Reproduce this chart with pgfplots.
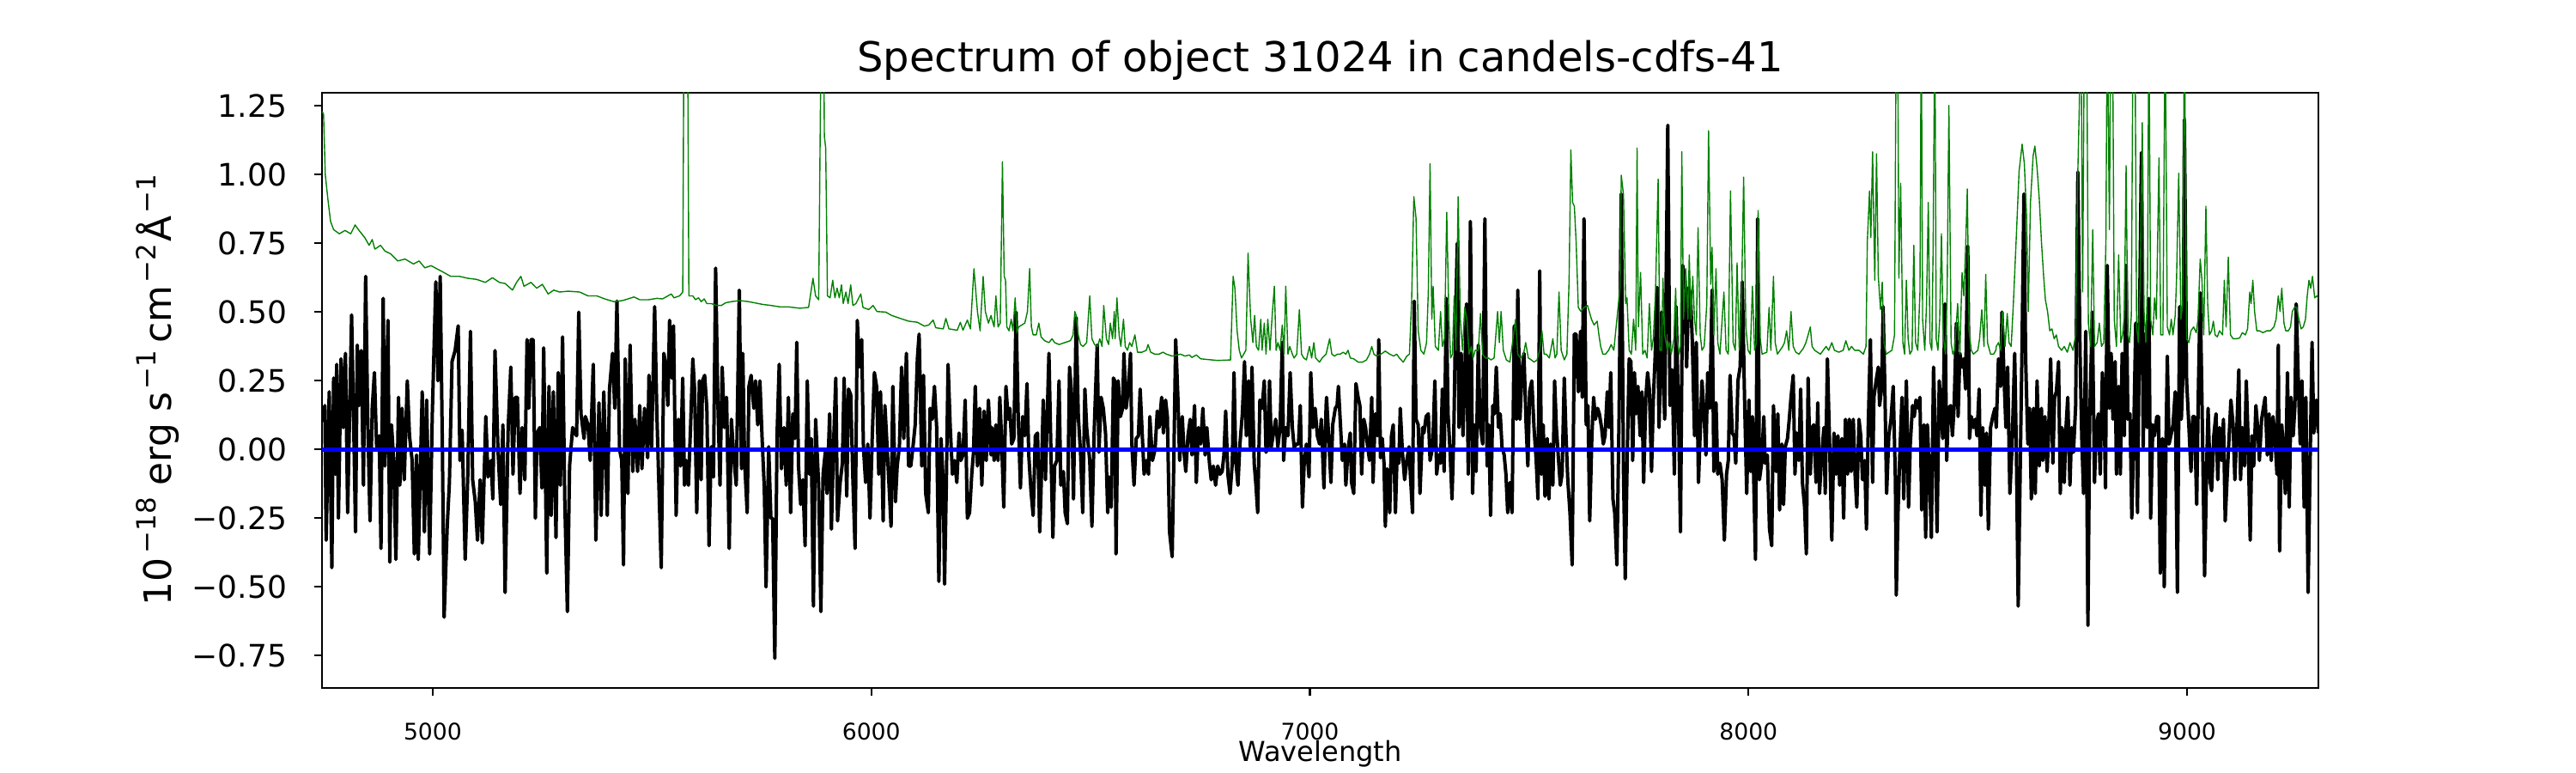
\documentclass[border=0pt]{standalone}
\usepackage{fontspec}
\setmainfont{DejaVu Sans}
\usepackage{pgfplots}
\pgfplotsset{compat=1.18}
\usepackage{pgfplotstable}
\definecolor{mplgreen}{RGB}{0,128,0}
\definecolor{mplblue}{RGB}{0,0,255}
\newcommand{\sups}[1]{\raisebox{6.6pt}{\fontsize{11.1}{13}\selectfont #1}}
\pgfplotstableread[row sep=\\]{
x y\\
4749 0.10\\ 4754 0.16\\ 4757 -0.33\\ 4764 0.21\\ 4770 -0.43\\ 4774 0.26\\ 4778 -0.09\\ 4781 0.31\\ 4785 -0.25\\ 4791 0.33\\
4796 0.08\\ 4801 0.35\\ 4806 -0.23\\ 4815 0.49\\ 4819 0.16\\ 4824 -0.30\\ 4828 0.38\\ 4832 0.16\\ 4837 0.36\\ 4842 -0.13\\
4847 0.63\\ 4852 0.09\\ 4857 -0.26\\ 4862 0.15\\ 4867 0.28\\ 4872 0.01\\ 4878 0.05\\ 4882 -0.36\\ 4887 0.55\\ 4891 -0.06\\
4898 0.47\\ 4902 -0.41\\ 4906 0.09\\ 4911 -0.04\\ 4916 -0.40\\ 4922 0.19\\ 4925 -0.13\\ 4930 0.15\\ 4935 -0.11\\ 4942 0.25\\
4947 0.05\\ 4953 -0.04\\ 4958 -0.38\\ 4963 -0.02\\ 4967 -0.40\\ 4976 0.21\\ 4981 -0.30\\ 4986 0.18\\ 4993 -0.38\\ 4999 0.13\\
5007 0.61\\ 5012 0.25\\ 5017 0.63\\ 5022 0.01\\ 5026 -0.61\\ 5033 -0.28\\ 5038 -0.12\\ 5044 0.32\\ 5051 0.36\\ 5058 0.45\\
5062 -0.04\\ 5067 0.07\\ 5074 -0.40\\ 5080 -0.09\\ 5086 0.43\\ 5091 -0.11\\ 5097 -0.19\\ 5102 -0.33\\ 5108 -0.11\\ 5113 -0.34\\
5121 0.12\\ 5126 -0.10\\ 5133 -0.04\\ 5137 -0.18\\ 5142 0.36\\ 5149 -0.01\\ 5155 -0.20\\ 5160 0.09\\ 5165 -0.52\\ 5172 0.08\\
5178 0.30\\ 5183 -0.09\\ 5188 0.19\\ 5193 0.19\\ 5199 -0.16\\ 5204 0.08\\ 5210 -0.11\\ 5215 0.40\\ 5219 0.15\\ 5224 0.40\\
5229 0.40\\ 5234 -0.25\\ 5238 0.06\\ 5244 0.08\\ 5249 -0.14\\ 5253 0.37\\ 5260 -0.45\\ 5265 0.23\\ 5270 -0.24\\ 5275 0.21\\
5281 -0.32\\ 5286 0.28\\ 5291 -0.13\\ 5296 0.41\\ 5301 -0.18\\ 5307 -0.59\\ 5312 -0.06\\ 5319 0.08\\ 5324 0.06\\ 5328 0.05\\
5333 0.50\\ 5338 0.13\\ 5345 0.04\\ 5348 0.12\\ 5354 0.09\\ 5359 -0.04\\ 5366 0.31\\ 5372 -0.33\\ 5379 0.17\\ 5384 -0.24\\
5390 0.21\\ 5398 -0.24\\ 5403 0.22\\ 5410 0.35\\ 5415 0.15\\ 5420 0.54\\ 5426 0.00\\ 5431 -0.04\\ 5435 -0.42\\ 5439 0.33\\
5445 -0.16\\ 5450 0.38\\ 5456 -0.08\\ 5461 0.11\\ 5467 -0.08\\ 5472 0.16\\ 5477 -0.07\\ 5483 0.15\\ 5490 -0.03\\ 5493 0.27\\
5499 0.01\\ 5506 0.52\\ 5511 0.13\\
5521 -0.43\\ 5527 0.35\\ 5532 0.30\\ 5536 0.16\\ 5540 0.47\\ 5545 0.26\\ 5549 0.45\\ 5555 -0.24\\ 5560 0.11\\ 5565 -0.06\\
5570 0.26\\ 5574 -0.13\\ 5578 -0.04\\ 5583 -0.13\\ 5588 0.09\\ 5593 0.33\\ 5597 0.22\\ 5602 -0.23\\ 5608 0.25\\ 5612 -0.11\\
5615 0.25\\ 5620 0.27\\ 5625 0.15\\ 5630 -0.35\\ 5635 0.01\\ 5640 -0.10\\ 5645 0.66\\ 5650 0.18\\ 5655 -0.13\\ 5660 0.30\\
5665 0.08\\ 5670 0.19\\ 5676 -0.36\\ 5681 0.11\\ 5686 -0.02\\ 5692 -0.13\\ 5699 0.58\\ 5704 -0.07\\ 5707 0.35\\ 5711 -0.04\\
5717 -0.23\\ 5721 0.23\\ 5726 0.27\\ 5732 0.15\\ 5736 0.25\\ 5741 0.09\\ 5746 0.25\\ 5751 0.04\\ 5756 -0.14\\ 5760 -0.50\\
5766 0.01\\ 5771 -0.25\\ 5775 -0.25\\ 5780 -0.76\\ 5785 0.05\\ 5790 0.31\\ 5795 -0.07\\ 5801 0.08\\ 5806 -0.13\\ 5811 0.19\\
5816 -0.23\\ 5821 0.13\\ 5826 0.04\\ 5830 0.39\\ 5834 -0.06\\ 5839 -0.20\\ 5844 -0.11\\ 5849 -0.35\\ 5854 0.25\\ 5859 -0.09\\
5863 0.04\\ 5868 -0.57\\ 5873 0.11\\ 5880 -0.13\\ 5885 -0.59\\ 5890 -0.09\\ 5895 -0.01\\ 5899 -0.16\\ 5905 0.13\\ 5909 -0.29\\
5914 0.02\\ 5919 0.26\\ 5923 -0.26\\ 5929 -0.12\\ 5934 -0.05\\ 5938 0.26\\ 5944 -0.17\\ 5948 0.22\\ 5953 0.20\\ 5958 -0.11\\
5963 -0.36\\ 5968 0.47\\ 5973 0.30\\ 5978 0.40\\ 5982 0.01\\ 5987 -0.12\\ 5992 0.02\\ 5997 -0.25\\ 6002 0.04\\ 6007 0.28\\
6012 0.23\\ 6017 -0.09\\ 6021 0.21\\ 6027 -0.26\\ 6031 0.16\\ 6036 0.01\\ 6041 -0.15\\ 6045 -0.28\\ 6049 0.23\\ 6055 -0.19\\
6059 -0.06\\ 6064 0.01\\ 6069 0.30\\ 6074 0.04\\ 6080 0.35\\ 6085 -0.06\\ 6090 -0.06\\ 6095 0.01\\ 6100 0.09\\ 6105 0.33\\
6109 0.42\\ 6115 -0.06\\ 6119 0.27\\ 6124 -0.16\\ 6130 -0.23\\ 6134 0.15\\ 6139 0.11\\ 6144 0.23\\ 6149 0.08\\ 6154 -0.48\\
6159 0.04\\ 6164 -0.12\\ 6167 -0.49\\ 6171 -0.13\\ 6175 0.31\\ 6180 0.08\\ 6185 -0.09\\ 6190 -0.04\\ 6195 -0.12\\ 6200 0.06\\
6204 -0.04\\ 6209 -0.02\\ 6214 0.18\\ 6219 -0.25\\ 6224 -0.23\\ 6229 -0.09\\ 6233 -0.01\\ 6237 0.23\\ 6242 -0.06\\ 6247 0.15\\
6252 -0.13\\ 6257 0.14\\ 6262 -0.04\\ 6267 0.18\\ 6273 -0.02\\
6275 0.08\\ 6280 -0.04\\ 6284 0.09\\ 6289 -0.04\\ 6293 0.19\\ 6297 0.04\\ 6302 -0.21\\ 6307 0.23\\ 6312 0.11\\ 6316 0.15\\
6320 0.02\\ 6325 0.04\\ 6330 0.50\\ 6335 0.12\\ 6340 -0.14\\ 6345 0.12\\ 6350 0.05\\ 6355 0.24\\ 6359 -0.02\\ 6364 -0.15\\
6369 -0.24\\ 6374 0.05\\ 6379 0.06\\ 6384 -0.30\\ 6387 -0.15\\ 6392 0.18\\ 6397 -0.11\\ 6401 0.12\\ 6405 0.35\\ 6410 -0.04\\
6414 -0.32\\ 6418 -0.06\\ 6423 -0.04\\ 6428 0.25\\ 6432 -0.13\\ 6438 -0.08\\ 6442 -0.23\\ 6447 -0.27\\ 6452 0.30\\ 6456 0.22\\
6461 -0.18\\ 6467 0.48\\ 6472 0.12\\ 6477 -0.01\\ 6482 -0.23\\ 6487 0.22\\ 6491 0.08\\ 6498 -0.04\\ 6503 -0.28\\ 6508 0.06\\
6515 0.38\\ 6519 -0.01\\ 6524 0.19\\ 6529 0.15\\ 6534 0.06\\ 6539 -0.23\\ 6542 -0.10\\ 6547 -0.21\\ 6552 0.26\\ 6555 0.25\\
6558 -0.38\\ 6563 0.25\\ 6568 0.12\\ 6573 0.15\\ 6576 0.35\\ 6581 0.15\\ 6586 0.22\\ 6591 0.35\\ 6594 0.02\\ 6599 -0.13\\
6604 0.04\\ 6609 0.05\\ 6613 0.22\\ 6617 0.08\\ 6622 -0.09\\ 6627 -0.04\\ 6632 -0.09\\ 6635 0.12\\ 6641 -0.04\\ 6647 0.00\\
6652 0.14\\ 6656 0.08\\ 6662 0.19\\ 6666 0.06\\ 6671 0.18\\ 6675 0.12\\ 6680 -0.30\\ 6686 -0.39\\ 6690 -0.01\\ 6694 0.40\\
6699 0.19\\ 6703 -0.04\\ 6709 0.12\\ 6713 -0.01\\ 6717 -0.08\\ 6722 0.05\\ 6727 0.11\\ 6731 -0.02\\ 6737 0.16\\ 6741 -0.12\\
6746 0.08\\ 6751 0.02\\ 6756 0.15\\ 6761 -0.02\\ 6765 0.08\\ 6771 -0.05\\ 6775 -0.11\\ 6780 -0.06\\ 6785 -0.13\\ 6790 -0.06\\
6795 -0.09\\ 6800 -0.08\\ 6804 -0.02\\ 6808 0.14\\ 6813 -0.09\\ 6818 -0.16\\ 6823 -0.05\\ 6827 0.28\\ 6831 -0.04\\ 6836 -0.13\\
6840 0.01\\ 6846 0.13\\ 6851 0.32\\ 6855 0.05\\ 6860 0.25\\ 6864 0.01\\ 6868 0.30\\ 6873 -0.05\\ 6877 -0.13\\ 6881 -0.23\\
6886 0.18\\ 6891 0.15\\ 6896 0.25\\ 6900 -0.01\\ 6904 0.01\\ 6908 0.25\\ 6912 0.01\\ 6917 0.06\\ 6922 0.11\\ 6927 0.01\\
6932 0.08\\ 6937 0.39\\ 6940 -0.04\\ 6945 0.08\\ 6950 0.05\\ 6955 0.28\\ 6960 0.08\\ 6964 0.01\\ 6970 0.02\\ 6974 0.02\\
6978 0.16\\ 6983 -0.21\\ 6987 -0.05\\ 6992 0.02\\ 6998 -0.10\\ 7002 0.28\\ 7007 0.08\\ 7012 0.15\\ 7017 0.05\\ 7022 0.02\\
7026 0.11\\ 7032 -0.14\\ 7037 0.16\\
7038 0.19\\ 7043 0.04\\ 7048 -0.12\\ 7052 0.09\\ 7058 0.15\\ 7062 0.16\\ 7065 0.23\\ 7069 0.11\\ 7074 -0.04\\ 7079 0.02\\
7082 -0.13\\ 7087 0.00\\ 7092 0.06\\ 7095 -0.12\\ 7100 -0.16\\ 7105 0.24\\ 7110 0.19\\ 7114 0.16\\ 7118 -0.09\\ 7123 0.11\\
7127 0.08\\ 7131 0.02\\ 7136 -0.04\\ 7141 0.19\\ 7144 -0.12\\ 7149 0.13\\ 7154 0.05\\ 7157 0.40\\ 7161 -0.03\\ 7165 0.04\\
7169 -0.05\\ 7172 -0.28\\ 7176 -0.07\\ 7182 -0.23\\ 7186 0.05\\ 7190 0.09\\ 7195 -0.23\\ 7199 -0.01\\ 7203 -0.05\\ 7206 0.15\\
7211 -0.01\\ 7216 -0.11\\ 7221 -0.04\\ 7226 0.01\\ 7229 -0.09\\ 7234 -0.23\\ 7238 0.54\\ 7242 0.11\\ 7247 0.09\\ 7251 -0.16\\
7257 0.08\\ 7260 0.06\\ 7265 0.12\\ 7270 0.13\\ 7274 -0.04\\ 7280 0.01\\ 7285 0.25\\ 7289 -0.09\\ 7294 -0.02\\ 7298 -0.05\\
7302 0.22\\ 7306 -0.08\\ 7311 0.55\\ 7315 0.13\\ 7320 -0.02\\ 7324 -0.18\\ 7328 0.05\\ 7332 0.45\\ 7336 0.75\\ 7340 0.08\\
7345 0.35\\ 7349 0.05\\ 7353 0.26\\ 7357 0.53\\ 7361 -0.09\\ 7366 0.83\\ 7371 -0.16\\ 7375 0.09\\ 7379 -0.08\\ 7384 0.38\\
7388 0.09\\ 7394 0.02\\ 7399 0.84\\ 7404 -0.06\\ 7408 0.09\\ 7412 -0.24\\ 7417 0.16\\ 7421 0.13\\ 7425 0.30\\ 7430 0.08\\
7434 0.13\\ 7438 0.01\\ 7443 -0.02\\ 7447 -0.09\\ 7451 -0.23\\ 7456 -0.12\\ 7461 -0.23\\ 7466 0.45\\ 7471 0.11\\ 7474 0.58\\
7479 0.11\\ 7483 0.26\\ 7488 0.35\\ 7493 0.09\\ 7497 -0.06\\ 7501 0.21\\ 7506 0.25\\ 7511 0.08\\ 7516 -0.04\\ 7520 -0.18\\
7524 0.65\\ 7528 -0.09\\ 7532 0.09\\ 7536 -0.17\\ 7541 0.04\\ 7545 -0.18\\ 7549 0.02\\ 7554 -0.13\\ 7558 0.25\\ 7562 0.08\\
7567 -0.04\\ 7571 -0.13\\ 7575 -0.09\\ 7580 0.26\\ 7584 0.05\\ 7588 -0.11\\ 7593 -0.23\\ 7598 -0.42\\ 7603 0.42\\ 7607 0.42\\
7612 0.21\\ 7617 0.43\\ 7621 0.19\\ 7625 0.84\\ 7630 0.09\\ 7634 0.16\\ 7638 -0.26\\ 7643 0.05\\ 7647 0.19\\ 7651 0.11\\
7656 0.15\\ 7660 0.13\\ 7665 0.08\\ 7669 0.02\\ 7673 0.05\\ 7678 0.21\\ 7682 0.08\\ 7686 0.28\\ 7691 -0.18\\ 7695 -0.23\\
7700 -0.42\\ 7705 0.13\\ 7710 0.93\\ 7715 -0.08\\ 7719 -0.47\\ 7723 -0.08\\ 7728 0.33\\ 7732 0.32\\ 7736 -0.04\\ 7740 0.28\\
7744 0.13\\ 7748 0.23\\ 7753 0.05\\ 7757 0.21\\ 7761 -0.12\\ 7766 0.19\\ 7770 0.28\\ 7774 0.22\\ 7779 -0.08\\ 7783 0.18\\
7787 0.33\\ 7792 0.59\\ 7796 0.08\\ 7800 0.33\\
7802 0.50\\ 7805 0.30\\ 7809 0.11\\ 7816 1.18\\ 7821 0.16\\ 7826 0.29\\ 7831 -0.09\\ 7835 0.52\\ 7841 0.09\\ 7845 -0.30\\
7850 0.67\\ 7855 0.62\\ 7859 0.30\\ 7864 0.59\\ 7868 0.56\\ 7872 0.39\\ 7877 0.05\\ 7881 0.39\\ 7886 -0.12\\ 7891 0.11\\
7894 0.25\\ 7898 0.15\\ 7903 -0.02\\ 7907 0.28\\ 7912 0.15\\ 7917 0.58\\ 7921 -0.08\\ 7926 0.17\\ 7930 -0.09\\ 7935 -0.05\\
7940 -0.11\\ 7945 -0.33\\ 7950 -0.09\\ 7954 -0.04\\ 7958 0.27\\ 7963 0.06\\ 7967 0.05\\ 7971 -0.05\\ 7976 0.25\\ 7981 0.30\\
7986 0.61\\ 7991 0.19\\ 7996 -0.16\\ 8001 0.18\\ 8005 -0.08\\ 8009 0.12\\ 8012 -0.11\\ 8016 -0.40\\ 8021 0.84\\ 8025 -0.11\\
8030 -0.05\\ 8035 0.12\\ 8038 -0.05\\ 8043 -0.02\\ 8048 -0.29\\ 8053 -0.35\\ 8057 0.16\\ 8063 -0.08\\ 8067 0.13\\ 8071 -0.22\\
8076 0.02\\ 8080 -0.20\\ 8084 0.01\\ 8089 0.04\\ 8093 0.11\\ 8097 0.19\\ 8102 0.27\\ 8106 -0.09\\ 8110 0.06\\ 8115 -0.04\\
8119 0.22\\ 8123 -0.12\\ 8128 -0.21\\ 8132 -0.38\\ 8136 0.26\\ 8141 -0.09\\ 8145 0.08\\ 8149 0.09\\ 8154 -0.12\\ 8158 0.17\\
8162 -0.16\\ 8167 -0.02\\ 8172 0.08\\ 8175 -0.16\\ 8180 0.33\\ 8185 0.02\\ 8190 -0.33\\ 8195 0.06\\ 8200 -0.09\\ 8204 0.05\\
8208 -0.13\\ 8213 0.04\\ 8217 -0.25\\ 8221 0.11\\ 8226 -0.09\\ 8230 0.11\\ 8234 -0.08\\ 8239 0.11\\ 8243 -0.09\\ 8247 -0.21\\
8252 0.11\\ 8256 0.05\\ 8260 -0.11\\ 8265 -0.04\\ 8269 -0.29\\ 8273 0.08\\ 8278 0.40\\ 8283 -0.12\\ 8286 0.19\\ 8291 0.25\\
8296 0.30\\ 8299 0.16\\ 8304 0.23\\ 8307 0.52\\ 8311 0.22\\ 8315 -0.16\\ 8320 0.05\\ 8325 0.11\\ 8330 0.23\\ 8335 -0.11\\
8337 -0.53\\ 8341 -0.23\\ 8345 -0.02\\ 8350 0.19\\ 8354 -0.18\\ 8360 0.25\\ 8365 -0.21\\ 8369 0.02\\ 8374 0.16\\ 8378 0.12\\
8382 0.18\\ 8387 0.15\\ 8391 0.19\\ 8395 -0.22\\ 8400 0.09\\ 8404 -0.32\\ 8408 0.09\\ 8413 -0.11\\ 8417 -0.32\\ 8422 0.30\\
8426 0.05\\ 8430 -0.30\\ 8435 0.25\\ 8439 0.15\\ 8443 0.04\\ 8448 0.53\\ 8452 -0.04\\ 8456 0.15\\ 8461 0.16\\ 8465 0.05\\
8469 0.16\\ 8474 0.46\\ 8478 0.12\\ 8482 0.35\\ 8487 0.30\\ 8491 0.33\\ 8495 0.22\\ 8500 0.74\\ 8504 0.04\\ 8508 0.12\\
8513 0.08\\ 8517 0.11\\ 8521 0.05\\ 8526 0.22\\ 8530 -0.24\\ 8534 0.08\\ 8539 -0.13\\ 8543 0.06\\ 8547 -0.29\\ 8552 0.08\\
8557 0.12\\ 8562 0.15\\
8565 0.08\\ 8570 0.33\\ 8575 0.23\\ 8578 0.50\\ 8583 0.25\\ 8587 0.08\\ 8591 0.30\\ 8596 -0.16\\ 8601 0.01\\ 8607 0.35\\
8611 -0.02\\ 8615 -0.57\\ 8621 0.08\\ 8624 0.40\\ 8628 0.93\\ 8632 0.33\\ 8637 0.02\\ 8641 0.15\\ 8645 -0.18\\ 8650 0.15\\
8654 -0.16\\ 8658 0.25\\ 8663 -0.06\\ 8668 0.15\\ 8671 -0.04\\ 8676 0.12\\ 8681 -0.08\\ 8684 0.04\\ 8689 0.33\\ 8694 -0.05\\
8698 0.19\\ 8702 0.21\\ 8707 0.32\\ 8711 -0.16\\ 8715 0.08\\ 8720 -0.12\\ 8724 0.08\\ 8728 0.19\\ 8733 -0.13\\ 8737 0.08\\
8741 -0.01\\ 8746 0.16\\ 8751 1.01\\ 8756 0.35\\ 8760 0.04\\ 8764 -0.16\\ 8769 0.43\\ 8774 -0.64\\ 8778 0.11\\ 8784 0.50\\
8789 -0.12\\ 8793 0.08\\ 8798 0.13\\ 8802 -0.09\\ 8807 0.28\\ 8811 0.16\\ 8814 -0.14\\ 8818 0.67\\ 8823 0.15\\ 8827 0.35\\
8831 0.11\\ 8836 0.32\\ 8839 -0.09\\ 8844 0.23\\ 8848 -0.09\\ 8852 0.35\\ 8857 0.05\\ 8861 0.67\\ 8865 0.11\\ 8870 0.13\\
8874 -0.25\\ 8878 0.02\\ 8883 0.46\\ 8887 -0.23\\ 8891 0.38\\ 8896 1.08\\ 8900 0.01\\ 8904 0.42\\ 8909 0.08\\ 8913 0.55\\
8917 -0.25\\ 8922 0.09\\ 8926 0.05\\ 8931 0.12\\ 8935 0.12\\ 8939 -0.45\\ 8944 0.04\\ 8948 -0.50\\ 8952 0.02\\ 8955 0.34\\
8959 0.02\\ 8963 0.05\\ 8968 0.09\\ 8973 0.21\\ 8978 -0.52\\ 8983 0.52\\ 8987 0.11\\ 8991 0.29\\ 8994 1.20\\ 8999 0.25\\
9004 0.09\\ 9009 -0.08\\ 9013 0.12\\ 9017 0.12\\ 9022 -0.20\\ 9026 0.23\\ 9030 0.57\\ 9035 0.08\\ 9040 -0.46\\ 9045 -0.04\\
9048 0.15\\ 9053 -0.12\\ 9056 -0.15\\ 9061 0.05\\ 9066 0.13\\ 9070 -0.11\\ 9074 0.08\\ 9079 -0.04\\ 9083 0.11\\ 9087 -0.26\\
9092 -0.08\\ 9096 0.05\\ 9100 0.18\\ 9105 0.09\\ 9109 -0.11\\ 9113 0.05\\ 9118 0.29\\ 9122 -0.11\\ 9126 0.08\\ 9131 -0.06\\
9135 0.25\\ 9139 0.05\\ 9144 -0.33\\ 9148 0.05\\ 9152 -0.06\\ 9157 0.16\\ 9161 0.08\\ 9165 -0.04\\ 9170 0.11\\ 9174 0.15\\
9178 0.19\\ 9183 -0.02\\ 9187 0.13\\ 9192 -0.04\\ 9196 0.12\\ 9200 0.06\\ 9205 -0.09\\ 9208 0.38\\ 9211 -0.37\\ 9216 0.09\\
9220 -0.01\\ 9224 -0.16\\ 9229 0.28\\ 9233 -0.21\\ 9237 0.19\\ 9242 0.05\\ 9246 0.16\\ 9249 0.53\\ 9254 0.23\\ 9258 0.02\\
9262 0.25\\ 9267 -0.21\\ 9271 0.19\\ 9276 -0.52\\ 9281 -0.01\\ 9285 0.39\\ 9289 0.06\\ 9295 0.18\\ 9299.5 0.06\\
}\blackdata
\pgfplotstableread[row sep=\\]{
x y\\
4748 1.23\\ 4751 1.22\\ 4755 1.00\\ 4761 0.91\\ 4767 0.83\\ 4774 0.80\\ 4787 0.785\\ 4800 0.797\\ 4813 0.785\\ 4823 0.817\\
4832 0.797\\ 4845 0.771\\ 4855 0.743\\ 4862 0.764\\ 4868 0.729\\ 4881 0.743\\ 4891 0.722\\ 4904 0.712\\ 4920 0.686\\ 4937 0.693\\
4956 0.675\\ 4969 0.686\\ 4982 0.661\\ 4996 0.669\\ 5009 0.658\\ 5022 0.647\\ 5041 0.630\\ 5061 0.630\\ 5080 0.623\\ 5100 0.619\\
5120 0.608\\ 5136 0.625\\ 5152 0.608\\ 5165 0.604\\ 5182 0.580\\ 5191 0.608\\ 5201 0.630\\ 5208 0.594\\ 5224 0.608\\ 5237 0.587\\
5250 0.601\\ 5263 0.566\\ 5276 0.580\\ 5289 0.573\\ 5309 0.576\\ 5335 0.573\\ 5354 0.559\\ 5374 0.559\\ 5394 0.547\\ 5413 0.538\\
5433 0.542\\ 5459 0.555\\ 5472 0.545\\ 5492 0.545\\ 5511 0.550\\
5524 0.548\\ 5544 0.566\\ 5550 0.552\\ 5563 0.559\\ 5570 0.573\\ 5573 1.6\\ 5578 1.6\\ 5581 1.6\\ 5584 0.559\\ 5593 0.559\\
5599 0.545\\ 5606 0.552\\ 5612 0.538\\ 5619 0.548\\ 5625 0.531\\ 5635 0.531\\ 5648 0.524\\ 5658 0.524\\ 5668 0.534\\ 5681 0.538\\
5700 0.542\\ 5720 0.538\\ 5733 0.534\\ 5752 0.528\\ 5772 0.524\\ 5792 0.519\\ 5811 0.519\\ 5837 0.514\\ 5857 0.517\\ 5867 0.623\\
5873 0.559\\ 5880 0.545\\ 5886 1.6\\ 5891 1.6\\ 5893 1.139\\ 5896 1.097\\ 5900 0.559\\ 5906 0.552\\ 5912 0.616\\ 5917 0.552\\
5922 0.587\\ 5927 0.552\\ 5932 0.599\\ 5936 0.531\\ 5942 0.573\\ 5947 0.531\\ 5953 0.599\\ 5958 0.524\\ 5965 0.531\\ 5976 0.566\\
5981 0.517\\ 5994 0.509\\ 6004 0.524\\ 6013 0.502\\ 6033 0.500\\ 6046 0.488\\ 6066 0.477\\ 6085 0.467\\ 6105 0.463\\ 6121 0.449\\
6131 0.453\\ 6141 0.471\\ 6147 0.443\\ 6164 0.439\\ 6170 0.477\\ 6177 0.439\\ 6196 0.434\\ 6203 0.463\\ 6209 0.434\\ 6219 0.471\\
6226 0.439\\ 6234 0.658\\ 6242 0.502\\ 6248 0.432\\ 6255 0.630\\ 6260 0.502\\ 6267 0.460\\ 6273 0.488\\
6275 0.474\\ 6280 0.446\\ 6284 0.559\\ 6289 0.446\\ 6294 0.460\\ 6299 1.047\\ 6303 0.630\\ 6306 0.616\\ 6309 0.446\\ 6314 0.432\\
6319 0.474\\ 6323 0.432\\ 6328 0.552\\ 6332 0.425\\ 6336 0.446\\ 6343 0.453\\ 6350 0.460\\ 6356 0.502\\ 6361 0.658\\ 6365 0.446\\
6369 0.417\\ 6376 0.417\\ 6382 0.460\\ 6387 0.410\\ 6395 0.396\\ 6405 0.389\\ 6412 0.403\\ 6418 0.389\\ 6428 0.382\\ 6441 0.389\\
6454 0.396\\ 6460 0.417\\ 6464 0.502\\ 6467 0.488\\ 6472 0.417\\ 6477 0.382\\ 6483 0.375\\ 6491 0.389\\ 6498 0.559\\ 6503 0.403\\
6509 0.382\\ 6516 0.375\\ 6521 0.403\\ 6526 0.375\\ 6530 0.524\\ 6536 0.403\\ 6541 0.382\\ 6545 0.460\\ 6550 0.403\\ 6554 0.502\\
6556 0.403\\ 6560 0.552\\ 6565 0.417\\ 6569 0.375\\ 6575 0.474\\ 6579 0.375\\ 6584 0.361\\ 6589 0.389\\ 6594 0.375\\ 6601 0.417\\
6607 0.354\\ 6617 0.354\\ 6627 0.361\\ 6631 0.382\\ 6637 0.354\\ 6646 0.347\\ 6656 0.347\\ 6665 0.354\\ 6673 0.347\\ 6686 0.340\\
6705 0.347\\ 6715 0.340\\ 6725 0.344\\ 6731 0.335\\ 6741 0.344\\ 6751 0.330\\ 6770 0.327\\ 6790 0.324\\ 6819 0.326\\ 6825 0.630\\
6829 0.587\\ 6834 0.432\\ 6839 0.361\\ 6844 0.333\\ 6849 0.347\\ 6854 0.361\\ 6859 0.715\\ 6862 0.587\\ 6865 0.474\\ 6870 0.389\\
6874 0.488\\ 6878 0.375\\ 6883 0.361\\ 6888 0.474\\ 6891 0.361\\ 6896 0.460\\ 6900 0.347\\ 6904 0.474\\ 6909 0.361\\ 6914 0.488\\
6919 0.594\\ 6923 0.361\\ 6927 0.389\\ 6932 0.361\\ 6937 0.453\\ 6941 0.347\\ 6945 0.594\\ 6950 0.347\\ 6954 0.375\\ 6960 0.347\\
6964 0.333\\ 6970 0.347\\ 6976 0.509\\ 6981 0.347\\ 6986 0.333\\ 6992 0.326\\ 6999 0.375\\ 7004 0.333\\ 7009 0.389\\ 7013 0.333\\
7022 0.318\\ 7028 0.333\\ 7037 0.347\\
7045 0.403\\ 7050 0.347\\ 7056 0.340\\ 7063 0.347\\ 7069 0.347\\ 7076 0.354\\ 7082 0.347\\ 7087 0.361\\ 7092 0.333\\ 7100 0.330\\
7110 0.318\\ 7120 0.318\\ 7129 0.326\\ 7136 0.347\\ 7141 0.375\\ 7146 0.347\\ 7152 0.340\\ 7162 0.347\\ 7172 0.358\\ 7182 0.347\\
7191 0.340\\ 7198 0.347\\ 7204 0.333\\ 7213 0.318\\ 7221 0.340\\ 7227 0.347\\ 7232 0.545\\ 7237 0.920\\ 7242 0.842\\ 7247 0.432\\
7253 0.361\\ 7260 0.347\\ 7266 0.389\\ 7270 0.573\\ 7274 1.040\\ 7278 0.474\\ 7281 0.594\\ 7286 0.375\\ 7293 0.361\\ 7298 0.502\\
7302 0.375\\ 7307 0.403\\ 7312 0.863\\ 7317 0.474\\ 7321 0.333\\ 7325 0.347\\ 7329 0.559\\ 7333 0.361\\ 7338 0.920\\ 7343 0.474\\
7348 0.361\\ 7353 0.517\\ 7358 0.474\\ 7363 0.347\\ 7368 0.375\\ 7372 0.333\\ 7377 0.361\\ 7384 0.361\\ 7389 0.495\\ 7394 0.347\\
7400 0.333\\ 7407 0.333\\ 7413 0.326\\ 7420 0.333\\ 7428 0.502\\ 7432 0.389\\ 7436 0.502\\ 7441 0.361\\ 7448 0.326\\ 7456 0.318\\
7462 0.389\\ 7469 0.474\\ 7474 0.347\\ 7480 0.333\\ 7487 0.347\\ 7492 0.389\\ 7498 0.333\\ 7505 0.326\\ 7511 0.318\\ 7518 0.326\\
7524 0.361\\ 7529 0.432\\ 7534 0.347\\ 7539 0.347\\ 7546 0.333\\ 7554 0.403\\ 7559 0.333\\ 7563 0.347\\ 7568 0.573\\ 7573 0.361\\
7580 0.326\\ 7586 0.347\\ 7591 0.616\\ 7595 1.090\\ 7599 0.899\\ 7603 0.885\\ 7607 0.757\\ 7612 0.517\\ 7618 0.502\\ 7625 0.517\\
7633 0.524\\ 7642 0.474\\ 7648 0.453\\ 7655 0.467\\ 7659 0.417\\ 7663 0.375\\ 7668 0.347\\ 7674 0.347\\ 7681 0.361\\ 7687 0.382\\
7693 0.361\\ 7700 0.474\\ 7707 0.587\\ 7710 0.998\\ 7715 0.927\\ 7720 0.531\\ 7723 0.552\\ 7728 0.361\\ 7733 0.347\\ 7738 0.474\\
7743 0.361\\ 7746 1.097\\ 7749 0.446\\ 7754 0.644\\ 7759 0.347\\ 7764 0.361\\ 7769 0.333\\ 7774 0.531\\ 7779 0.361\\ 7783 0.403\\
7788 0.573\\ 7794 0.984\\ 7798 0.361\\
7802 0.361\\ 7805 0.623\\ 7809 0.417\\ 7815 0.361\\ 7820 0.389\\ 7824 0.347\\ 7830 0.403\\ 7834 0.587\\ 7837 0.403\\ 7842 0.347\\
7845 0.375\\ 7848 1.083\\ 7852 0.474\\ 7857 0.658\\ 7862 0.474\\ 7865 0.708\\ 7869 0.474\\ 7873 0.630\\ 7877 0.474\\ 7881 0.417\\
7885 0.807\\ 7890 0.417\\ 7894 0.361\\ 7899 0.375\\ 7905 0.531\\ 7909 1.160\\ 7914 0.601\\ 7917 0.736\\ 7921 0.417\\ 7926 0.658\\
7930 0.389\\ 7935 0.347\\ 7940 0.474\\ 7944 0.573\\ 7949 0.361\\ 7954 0.347\\ 7959 0.941\\ 7965 0.389\\ 7970 0.361\\ 7974 0.679\\
7979 0.361\\ 7984 0.531\\ 7989 0.991\\ 7994 0.446\\ 7999 0.361\\ 8004 0.347\\ 8009 0.594\\ 8014 0.361\\ 8018 0.389\\ 8022 0.870\\
8027 0.403\\ 8031 0.347\\ 8042 0.354\\ 8047 0.517\\ 8051 0.361\\ 8057 0.630\\ 8061 0.389\\ 8066 0.347\\ 8072 0.361\\ 8078 0.375\\
8082 0.389\\ 8087 0.432\\ 8092 0.361\\ 8097 0.502\\ 8102 0.375\\ 8108 0.354\\ 8115 0.347\\ 8125 0.368\\ 8131 0.389\\ 8136 0.417\\
8141 0.446\\ 8145 0.375\\ 8151 0.361\\ 8164 0.347\\ 8177 0.375\\ 8183 0.361\\ 8190 0.389\\ 8196 0.361\\ 8206 0.354\\ 8216 0.361\\
8222 0.396\\ 8229 0.361\\ 8235 0.375\\ 8242 0.361\\ 8252 0.361\\ 8262 0.347\\ 8268 0.375\\ 8271 0.757\\ 8276 0.941\\ 8279 0.771\\
8283 1.083\\ 8288 0.616\\ 8292 1.076\\ 8296 0.630\\ 8301 0.509\\ 8305 0.609\\ 8309 0.389\\ 8314 0.347\\ 8327 0.361\\ 8333 0.417\\
8337 1.6\\ 8340 1.6\\ 8343 0.623\\ 8347 0.969\\ 8352 0.389\\ 8356 0.347\\ 8360 0.616\\ 8364 0.403\\ 8368 0.347\\ 8373 0.361\\
8377 0.743\\ 8381 0.389\\ 8386 0.361\\ 8391 0.573\\ 8394 1.6\\ 8397 0.474\\ 8402 0.361\\ 8406 0.531\\ 8410 0.899\\ 8414 0.389\\
8418 0.361\\ 8421 0.729\\ 8425 1.6\\ 8428 0.403\\ 8432 0.361\\ 8436 0.474\\ 8440 0.785\\ 8444 0.417\\ 8449 0.347\\ 8453 0.573\\
8457 1.252\\ 8462 0.389\\ 8466 0.347\\ 8470 0.361\\ 8477 0.531\\ 8482 0.347\\ 8487 0.644\\ 8491 0.559\\ 8495 0.729\\ 8499 0.948\\
8503 0.432\\ 8508 0.361\\ 8513 0.347\\ 8523 0.361\\ 8527 0.403\\ 8532 0.509\\ 8537 0.375\\ 8541 0.637\\ 8545 0.389\\ 8552 0.347\\
8559 0.347\\ 8564 0.361\\
8565 0.375\\ 8570 0.389\\ 8575 0.361\\ 8579 0.502\\ 8585 0.375\\ 8590 0.495\\ 8594 0.389\\ 8599 0.375\\ 8604 0.531\\ 8611 0.785\\
8617 1.012\\ 8624 1.111\\ 8629 1.040\\ 8634 0.856\\ 8638 0.502\\ 8643 0.899\\ 8649 1.068\\ 8653 1.104\\ 8658 1.026\\ 8663 0.913\\
8668 0.757\\ 8673 0.630\\ 8677 0.545\\ 8682 0.502\\ 8687 0.432\\ 8692 0.439\\ 8697 0.403\\ 8702 0.417\\ 8707 0.375\\ 8714 0.361\\
8720 0.375\\ 8727 0.354\\ 8733 0.389\\ 8740 0.361\\ 8746 0.417\\ 8751 1.012\\ 8754 1.224\\ 8758 1.6\\ 8762 0.573\\ 8766 1.6\\
8771 1.6\\ 8775 0.460\\ 8780 0.375\\ 8785 0.800\\ 8789 0.375\\ 8795 0.389\\ 8800 0.460\\ 8805 0.375\\ 8810 0.389\\ 8815 0.757\\
8818 1.6\\ 8823 0.800\\ 8826 1.6\\ 8830 1.6\\ 8834 0.474\\ 8839 0.375\\ 8844 0.708\\ 8849 0.389\\ 8853 0.417\\ 8857 0.488\\
8861 1.033\\ 8865 0.417\\ 8869 0.389\\ 8873 0.488\\ 8877 1.6\\ 8881 1.6\\ 8885 0.446\\ 8889 0.389\\ 8893 0.601\\ 8898 1.189\\
8902 0.502\\ 8906 0.389\\ 8910 0.616\\ 8913 1.6\\ 8917 0.474\\ 8922 0.417\\ 8926 0.552\\ 8930 0.474\\ 8936 1.061\\ 8940 0.417\\
8945 0.417\\ 8950 1.6\\ 8955 0.446\\ 8960 0.417\\ 8964 0.474\\ 8968 0.417\\ 8973 0.488\\ 8976 0.616\\ 8981 1.005\\ 8986 0.474\\
8990 0.531\\ 8994 1.6\\ 8999 0.403\\ 9004 0.389\\ 9009 0.432\\ 9015 0.446\\ 9021 0.425\\ 9025 0.474\\ 9030 0.693\\ 9034 0.616\\
9038 0.417\\ 9043 0.885\\ 9047 0.531\\ 9051 0.417\\ 9056 0.432\\ 9060 0.467\\ 9064 0.417\\ 9069 0.410\\ 9074 0.432\\ 9081 0.417\\
9085 0.616\\ 9089 0.446\\ 9094 0.700\\ 9099 0.417\\ 9105 0.403\\ 9113 0.403\\ 9120 0.406\\ 9126 0.425\\ 9133 0.417\\ 9138 0.439\\
9143 0.573\\ 9146 0.531\\ 9150 0.616\\ 9154 0.502\\ 9159 0.432\\ 9165 0.432\\ 9173 0.425\\ 9182 0.432\\ 9190 0.432\\ 9198 0.446\\
9203 0.474\\ 9208 0.559\\ 9212 0.502\\ 9216 0.587\\ 9221 0.460\\ 9225 0.432\\ 9231 0.432\\ 9236 0.446\\ 9240 0.502\\ 9245 0.517\\
9250 0.517\\ 9255 0.474\\ 9260 0.439\\ 9265 0.446\\ 9270 0.474\\ 9274 0.559\\ 9278 0.616\\ 9282 0.587\\ 9286 0.630\\ 9291 0.552\\
9296 0.559\\ 9299.5 0.55\\
}\greendata
\begin{document}
\begin{tikzpicture}
\path[use as bounding box] (0,0) rectangle (1080pt,324pt);
\begin{axis}[
  name=ax, at={(135pt,35.64pt)}, anchor=south west,
  scale only axis, width=837pt, height=249.48pt,
  xmin=4747.5, xmax=9299.5, ymin=-0.8675, ymax=1.298,
  scaled x ticks=false, scaled y ticks=false,
  xtick={5000,6000,7000,8000,9000},
  xticklabels={5000,6000,7000,8000,9000},
  ytick={-0.75,-0.5,-0.25,0,0.25,0.5,0.75,1.0,1.25},
  yticklabels={−0.75,−0.50,−0.25,0.00,0.25,0.50,0.75,1.00,1.25},
  tick align=outside, tick pos=left,
  major tick length=3.36pt,
  tick style={line width=0.77pt, black},
  axis line style={line width=0.77pt},
  xticklabel style={font=\fontsize{9.6}{11}\selectfont, anchor=base, inner sep=0pt, yshift=-18.25pt},
  yticklabel style={font=\fontsize{12.96}{15}\selectfont, anchor=east, inner sep=0pt, xshift=-11.2pt},
  clip=true,
]
\addplot[black, line width=1.44pt, line join=round, no markers] table[x=x, y=y] {\blackdata};
\addplot[mplgreen, line width=0.5pt, line join=round, no markers] table[x=x, y=y] {\greendata};
\addplot[mplblue, line width=1.92pt, no markers] coordinates {(4747.5,0) (9299.5,0)};
\end{axis}
\node[anchor=base, inner sep=0pt, font=\fontsize{17.28}{20}\selectfont] at ([yshift=8.9pt]ax.north) {Spectrum of object 31024 in candels-cdfs-41};
\node[anchor=base, inner sep=0pt, font=\fontsize{11.52}{14}\selectfont] at ([yshift=-30.96pt]ax.south) {Wavelength};
\node[rotate=90, inner sep=0pt, font=\fontsize{15.84}{18}\selectfont] at ([xshift=-68.9pt]ax.west) {10\kern2pt\sups{−18}\ erg s\kern1pt\sups{−1}\kern3pt cm\kern1pt\sups{−2}\kern1pt Å\kern1pt\sups{−1}};
\end{tikzpicture}
\end{document}
